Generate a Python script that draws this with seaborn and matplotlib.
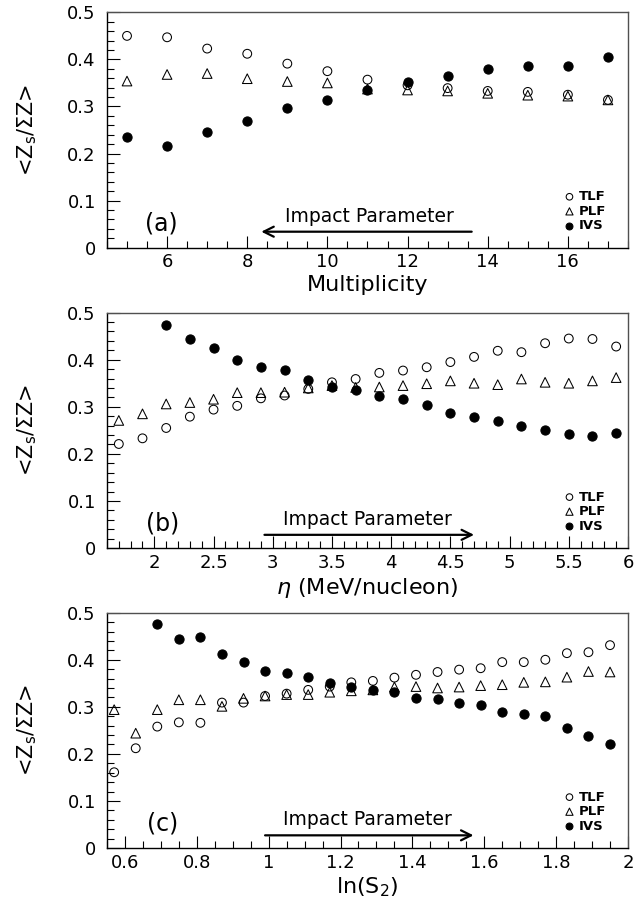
import numpy as np
import pandas as pd
import matplotlib
matplotlib.use("Agg")
import matplotlib.pyplot as plt
from matplotlib.ticker import MultipleLocator, FuncFormatter
import seaborn as sns

# ---- data -------------------------------------------------------------
series = ["TLF", "PLF", "IVS"]

mult = [5, 6, 7, 8, 9, 10, 11, 12, 13, 14, 15, 16, 17]
a_tlf = [0.450, 0.447, 0.423, 0.412, 0.391, 0.375, 0.357, 0.345, 0.339, 0.333, 0.331, 0.325, 0.314]
a_plf = [0.354, 0.368, 0.370, 0.359, 0.353, 0.350, 0.337, 0.335, 0.333, 0.328, 0.324, 0.322, 0.314]
a_ivs = [0.236, 0.217, 0.245, 0.269, 0.296, 0.313, 0.336, 0.352, 0.364, 0.380, 0.385, 0.387, 0.405]

eta = [1.7, 1.9, 2.1, 2.3, 2.5, 2.7, 2.9, 3.1, 3.3, 3.5, 3.7,
       3.9, 4.1, 4.3, 4.5, 4.7, 4.9, 5.1, 5.3, 5.5, 5.7, 5.9]
eta_ivs = eta[2:]
b_tlf = [0.221, 0.233, 0.255, 0.279, 0.294, 0.302, 0.318, 0.324, 0.338, 0.352, 0.359,
         0.372, 0.377, 0.384, 0.395, 0.406, 0.419, 0.416, 0.435, 0.445, 0.444, 0.428]
b_plf = [0.271, 0.285, 0.306, 0.309, 0.316, 0.330, 0.330, 0.331, 0.340, 0.345, 0.341,
         0.342, 0.345, 0.349, 0.355, 0.350, 0.347, 0.359, 0.352, 0.350, 0.355, 0.362]
b_ivs = [0.474, 0.444, 0.425, 0.400, 0.384, 0.379, 0.356, 0.343, 0.336,
         0.322, 0.316, 0.304, 0.287, 0.279, 0.269, 0.260, 0.251, 0.242, 0.238, 0.244]

lns2 = [0.57, 0.63, 0.69, 0.75, 0.81, 0.87, 0.93, 0.99, 1.05, 1.11, 1.17, 1.23,
        1.29, 1.35, 1.41, 1.47, 1.53, 1.59, 1.65, 1.71, 1.77, 1.83, 1.89, 1.95]
lns2_ivs = lns2[2:]
c_tlf = [0.161, 0.212, 0.258, 0.267, 0.266, 0.309, 0.309, 0.323, 0.328, 0.336, 0.343, 0.352,
         0.355, 0.362, 0.368, 0.374, 0.379, 0.382, 0.395, 0.395, 0.400, 0.414, 0.416, 0.431]
c_plf = [0.294, 0.244, 0.294, 0.315, 0.315, 0.301, 0.318, 0.323, 0.326, 0.326, 0.331, 0.334,
         0.336, 0.342, 0.343, 0.340, 0.342, 0.345, 0.347, 0.352, 0.353, 0.363, 0.375, 0.374]
c_ivs = [0.475, 0.444, 0.448, 0.412, 0.395, 0.377, 0.372, 0.363, 0.350, 0.343, 0.336,
         0.331, 0.318, 0.317, 0.309, 0.304, 0.290, 0.285, 0.281, 0.256, 0.237, 0.221]


def frame(x_tlf, x_ivs, tlf, plf, ivs):
    return pd.concat([
        pd.DataFrame({"x": x_tlf, "y": tlf, "frag": "TLF"}),
        pd.DataFrame({"x": x_tlf, "y": plf, "frag": "PLF"}),
        pd.DataFrame({"x": x_ivs, "y": ivs, "frag": "IVS"}),
    ], ignore_index=True)


panels = [
    dict(df=frame(mult, mult, a_tlf, a_plf, a_ivs), xlim=(4.5, 17.5), major=2, minor=0.5,
         xlabel="Multiplicity", tag="(a)", tagx=5.85,
         arrow=(13.6, 8.35), arrow_y=0.034, text_x=11.05),
    dict(df=frame(eta, eta_ivs, b_tlf, b_plf, b_ivs), xlim=(1.6, 6.0), major=0.5, minor=0.1,
         xlabel=r"$\eta$ (MeV/nucleon)", tag="(b)", tagx=2.07,
         arrow=(2.93, 4.70), arrow_y=0.028, text_x=3.80),
    dict(df=frame(lns2, lns2_ivs, c_tlf, c_plf, c_ivs), xlim=(0.55, 2.0), major=0.2, minor=0.05,
         xlabel=r"ln(S$_\mathregular{2}$)", tag="(c)", tagx=0.705,
         arrow=(0.99, 1.57), arrow_y=0.027, text_x=1.276),
]

# ---- style ------------------------------------------------------------
sns.set_theme(style="white")
plt.rcParams["font.family"] = ["DejaVu Sans"]
plt.rcParams["mathtext.fontset"] = "dejavusans"
for key in ["text.color", "axes.labelcolor", "xtick.color", "ytick.color"]:
    plt.rcParams[key] = "black"

markers = {"TLF": "o", "PLF": "^", "IVS": "o"}
facecolors = {"TLF": "none", "PLF": "none", "IVS": "black"}
sizes = {"TLF": 40, "PLF": 48, "IVS": 44}

fig = plt.figure(figsize=(6.36, 9.07), dpi=100)
bottoms = [0.7269, 0.3958, 0.0650]

for p, b in zip(panels, bottoms):
    ax = fig.add_axes([0.1682, b, 0.8192, 0.2595])
    df = p["df"]
    for frag in series:
        sub = df[df["frag"] == frag]
        sns.scatterplot(data=sub, x="x", y="y", ax=ax, marker=markers[frag],
                        s=sizes[frag], facecolor=facecolors[frag], edgecolor="black",
                        linewidth=0.75, label=frag, zorder=3 if frag == "IVS" else 2)

    ax.set_xlim(*p["xlim"])
    ax.set_ylim(0, 0.5)
    ax.xaxis.set_major_locator(MultipleLocator(p["major"]))
    ax.xaxis.set_minor_locator(MultipleLocator(p["minor"]))
    ax.yaxis.set_major_locator(MultipleLocator(0.1))
    ax.yaxis.set_minor_locator(MultipleLocator(0.02))
    ax.xaxis.set_major_formatter(FuncFormatter(lambda v, pos: f"{v:g}"))
    ax.yaxis.set_major_formatter(FuncFormatter(lambda v, pos: f"{v:g}"))
    ax.tick_params(which="both", direction="in", top=False, right=False,
                   bottom=True, left=True, width=0.8, color="black",
                   labelcolor="black")
    ax.tick_params(which="major", length=9, labelsize=13)
    ax.tick_params(which="minor", length=5)
    ax.tick_params(axis="x", which="major", pad=4)
    ax.tick_params(axis="y", which="major", pad=8)
    for side in ["left", "bottom"]:
        ax.spines[side].set_color("black")
        ax.spines[side].set_linewidth(1.0)
    for side in ["top", "right"]:
        ax.spines[side].set_color("#505050")
        ax.spines[side].set_linewidth(1.0)

    ax.set_xlabel(p["xlabel"], fontsize=16)
    ax.xaxis.set_label_coords(0.5, -0.118)
    ax.set_ylabel(r"<Z$_\mathregular{s}$/ΣZ>", fontsize=15)
    ax.yaxis.set_label_coords(-0.13, 0.5)

    ax.text(p["tagx"], 0.052, p["tag"], fontsize=17, ha="center", va="center")
    x0, x1 = p["arrow"]
    ax.annotate("", xy=(x1, p["arrow_y"]), xytext=(x0, p["arrow_y"]),
                arrowprops=dict(arrowstyle="->,head_length=0.6,head_width=0.3",
                                color="black", lw=1.6, shrinkA=0, shrinkB=0))
    ax.text(p["text_x"], p["arrow_y"] + 0.013, "Impact Parameter", fontsize=13.5,
            ha="center", va="bottom")

    leg = ax.legend(loc="lower left", bbox_to_anchor=(0.875, 0.065), frameon=False,
                    fontsize=9.5, handletextpad=0.2, labelspacing=0.12,
                    handlelength=1.0, borderpad=0, borderaxespad=0, markerscale=0.75)
    for t in leg.get_texts():
        t.set_fontweight("bold")

fig.savefig("out.png", dpi=100)
